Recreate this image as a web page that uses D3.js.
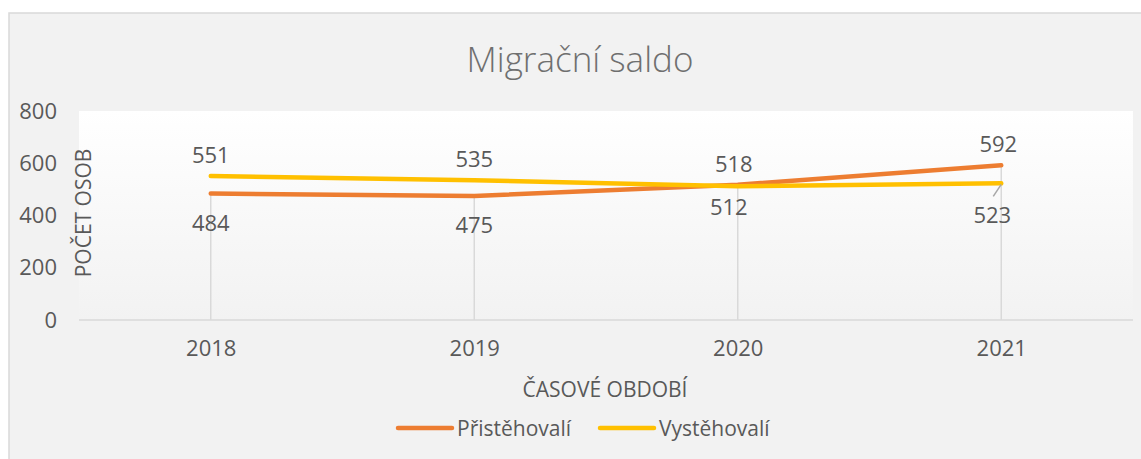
<!DOCTYPE html>
<html>
<head>
<meta charset="utf-8">
<script src="https://cdn.jsdelivr.net/npm/d3@7"></script>
<style>
  body { margin: 0; background: #fff; }
  text { font-family: "Open Sans", "Noto Sans", sans-serif; fill: #595959; }
</style>
</head>
<body>
<div class="chart"></div>
<script>
// data
const years = ['2018', '2019', '2020', '2021']
const prist = [484, 475, 518, 592]   // Přistěhovalí
const vyst = [551, 535, 512, 523]    // Vystěhovalí
const yTicks = [0, 200, 400, 600, 800]

const w = 1141
const h = 459
const plot = { left: 79, right: 1133, top: 111, bottom: 320 }

const svg = d3.select('.chart').append('svg')
    .attr('width', w)
    .attr('height', h)

// background + border
svg.append('rect')
    .attr('x', 9).attr('y', 13)
    .attr('width', w + 10).attr('height', h)
    .attr('fill', '#f2f2f2')
    .attr('stroke', '#d9d9d9')
    .attr('stroke-width', 1.5)

const defs = svg.append('defs')
const grad = defs.append('linearGradient')
    .attr('id', 'plotbg')
    .attr('x1', 0).attr('y1', 0).attr('x2', 0).attr('y2', 1)
grad.append('stop').attr('offset', '0%').attr('stop-color', '#ffffff')
grad.append('stop').attr('offset', '100%').attr('stop-color', '#f2f2f2')

svg.append('rect')
    .attr('x', plot.left).attr('y', plot.top)
    .attr('width', plot.right - plot.left)
    .attr('height', plot.bottom - plot.top)
    .attr('fill', 'url(#plotbg)')

// scales
const x = d3.scalePoint()
    .domain(years)
    .range([plot.left, plot.right])
    .padding(0.5)

const y = d3.scaleLinear()
    .domain([0, 800])
    .range([plot.bottom, plot.top])

// drop lines (from orange series)
svg.append('g')
    .selectAll('line')
    .data(years)
    .join('line')
    .attr('x1', d => x(d)).attr('x2', d => x(d))
    .attr('y1', y(0))
    .attr('y2', (d, i) => y(prist[i]))
    .attr('stroke', '#d9d9d9')
    .attr('stroke-width', 1.5)

// y axis (labels only)
const yAxis = svg.append('g')
    .attr('transform', `translate(${57}, 0)`)
    .call(d3.axisLeft(y).tickValues(yTicks).tickSize(0).tickPadding(0))
yAxis.select('.domain').remove()
yAxis.selectAll('text')
    .attr('font-size', 22)
    .attr('font-family', null)
    .attr('fill', '#595959')

// x axis
const xAxis = svg.append('g')
    .attr('transform', `translate(0, ${y(0)})`)
    .call(d3.axisBottom(x).tickSize(0).tickPadding(20))
xAxis.select('.domain')
    .attr('d', `M${plot.left},0H${plot.right}`)
    .attr('stroke', '#d9d9d9')
    .attr('stroke-width', 1.5)
xAxis.selectAll('text')
    .attr('font-size', 22)
    .attr('font-family', null)
    .attr('fill', '#595959')

// lines
const line = d3.line()
    .x((d, i) => x(years[i]))
    .y(d => y(d))

const series = [
    { name: 'Přistěhovalí', values: prist, color: '#ed7d31' },
    { name: 'Vystěhovalí', values: vyst, color: '#ffc000' }
]

series.forEach(s => {
    svg.append('path')
        .datum(s.values)
        .attr('d', line)
        .attr('fill', 'none')
        .attr('stroke', s.color)
        .attr('stroke-width', 4.5)
        .attr('stroke-linecap', 'round')
        .attr('stroke-linejoin', 'round')
})

// data labels: higher value above, lower below
function labelY(v, other, i) {
    if (v >= other) return y(v) - 13
    if (i === 2) return y(v) + 29
    if (i === 3) return y(v) + 40
    return y(v) + 37
}
function labelDx(v, other, i) {
    if (i === 2) return v >= other ? -4 : -9
    if (i === 3) return v >= other ? -3 : -9
    return 0
}

const labels = svg.append('g')
series.forEach((s, si) => {
    const other = series[1 - si].values
    labels.selectAll(null)
        .data(s.values)
        .join('text')
        .attr('x', (d, i) => x(years[i]) + labelDx(d, other[i], i))
        .attr('y', (d, i) => labelY(d, other[i], i))
        .attr('text-anchor', 'middle')
        .attr('font-size', 22)
        .text(d => d)
})

// leader line for last yellow label
svg.append('line')
    .attr('x1', x(years[3])).attr('y1', y(vyst[3]) + 1)
    .attr('x2', x(years[3]) - 8).attr('y2', y(vyst[3]) + 13)
    .attr('stroke', '#a6a6a6')
    .attr('stroke-width', 1.5)

// title
svg.append('text')
    .attr('x', 580).attr('y', 72)
    .attr('text-anchor', 'middle')
    .attr('font-size', 35)
    .attr('font-weight', 300)
    .style('fill', '#6f6f6f')
    .text('Migrační saldo')

// axis titles
svg.append('text')
    .attr('x', 605).attr('y', 397)
    .attr('text-anchor', 'middle')
    .attr('font-size', 21)
    .text('ČASOVÉ OBDOBÍ')

svg.append('text')
    .attr('transform', `translate(91, 213) rotate(-90)`)
    .attr('text-anchor', 'middle')
    .attr('font-size', 21)
    .text('POČET OSOB')

// legend
const legend = svg.append('g')
const legendX = [398, 600]
series.forEach((s, i) => {
    legend.append('line')
        .attr('x1', legendX[i]).attr('x2', legendX[i] + 54)
        .attr('y1', 428).attr('y2', 428)
        .attr('stroke', s.color)
        .attr('stroke-width', 4.5)
        .attr('stroke-linecap', 'round')
    legend.append('text')
        .attr('x', legendX[i] + 59)
        .attr('y', 436)
        .attr('font-size', 21)
        .text(s.name)
})
</script>
</body>
</html>
